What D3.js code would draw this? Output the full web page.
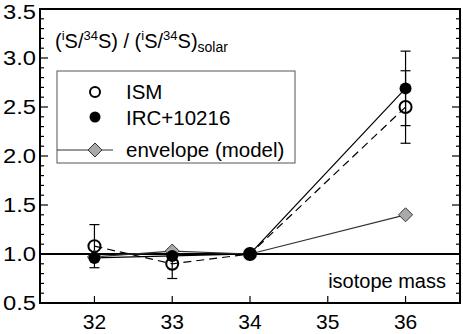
<!DOCTYPE html>
<html><head><meta charset="utf-8">
<script src="https://cdn.jsdelivr.net/npm/d3@7"></script>
<style>body{margin:0;background:#fff}svg{font-family:"Liberation Sans",Arial,sans-serif}</style>
</head><body>
<svg id="c" width="463" height="334"></svg>
<script>
const masses = [32, 33, 34, 36];
const ismValues = [1.08, 0.90, 1.00, 2.50];
const ismErrors = [0.22, 0.15, 0, 0.37];
const ircValues = [0.96, 0.98, 1.00, 2.69];
const ircErrors = [0, 0, 0, 0.38];
const envValues = [0.97, 1.03, 1.00, 1.40];
const xTicks = [32, 33, 34, 35, 36];
const yTicks = [0.5, 1.0, 1.5, 2.0, 2.5, 3.0, 3.5];

const svg = d3.select("#c");
const L = 40, R = 460, T = 9, B = 303;
const x = d3.scaleLinear().domain([31.3, 36.7]).range([L, R]);
const y = d3.scaleLinear().domain([0.5, 3.5]).range([B, T]);

const minor = d3.range(5, 36).map(d => d / 10);
const isMajor = d => Math.abs(d * 2 - Math.round(d * 2)) < 1e-6;
svg.append("g").selectAll("line").data(minor).join("line")
  .attr("x1", L).attr("x2", d => L + (isMajor(d) ? 8 : 4))
  .attr("y1", d => y(d)).attr("y2", d => y(d)).attr("stroke", "#000").attr("stroke-width", 1.2);
svg.append("g").selectAll("line").data(minor).join("line")
  .attr("x1", R).attr("x2", d => R - (isMajor(d) ? 8 : 4))
  .attr("y1", d => y(d)).attr("y2", d => y(d)).attr("stroke", "#000").attr("stroke-width", 1.2);
svg.append("g").selectAll("line").data(xTicks).join("line")
  .attr("x1", d => x(d)).attr("x2", d => x(d)).attr("y1", B).attr("y2", B - 7)
  .attr("stroke", "#000").attr("stroke-width", 1.2);

svg.append("g").selectAll("text").data(yTicks).join("text")
  .attr("x", 36).attr("y", d => Math.max(y(d) + 7, 18.5)).attr("text-anchor", "end")
  .attr("font-size", 20).attr("textLength", 33).attr("lengthAdjust", "spacingAndGlyphs")
  .text(d => d.toFixed(1));
svg.append("g").selectAll("text").data(xTicks).join("text")
  .attr("x", d => x(d)).attr("y", 329).attr("text-anchor", "middle")
  .attr("font-size", 21).text(d => d);

svg.append("line").attr("x1", L).attr("x2", R).attr("y1", y(1)).attr("y2", y(1))
  .attr("stroke", "#000").attr("stroke-width", 2);

const line = d3.line().x(d => x(d[0])).y(d => y(d[1]));
const zip = v => masses.map((m, i) => [m, v[i]]);

svg.append("path").attr("d", line(zip(envValues))).attr("fill", "none").attr("stroke", "#333").attr("stroke-width", 1.2);
svg.append("path").attr("d", line(zip(ircValues))).attr("fill", "none").attr("stroke", "#000").attr("stroke-width", 1.2);
svg.append("path").attr("d", line(zip(ismValues))).attr("fill", "none").attr("stroke", "#000").attr("stroke-width", 1.2).attr("stroke-dasharray", "8,5");

function errBars(vals, errs) {
  masses.forEach((m, i) => {
    if (!errs[i]) return;
    const g = svg.append("g").attr("stroke", "#000").attr("stroke-width", 1.2);
    g.append("line").attr("x1", x(m)).attr("x2", x(m)).attr("y1", y(vals[i] - errs[i])).attr("y2", y(vals[i] + errs[i]));
    [vals[i] - errs[i], vals[i] + errs[i]].forEach(v =>
      g.append("line").attr("x1", x(m) - 5).attr("x2", x(m) + 5).attr("y1", y(v)).attr("y2", y(v)));
  });
}
errBars(ismValues, ismErrors);
errBars(ircValues, ircErrors);

const diamond = (cx, cy) => `M${cx},${cy - 7}L${cx + 7},${cy}L${cx},${cy + 7}L${cx - 7},${cy}Z`;
svg.append("g").selectAll("path").data(zip(envValues)).join("path")
  .attr("d", d => diamond(x(d[0]), y(d[1]))).attr("fill", "#aaa").attr("stroke", "#333").attr("stroke-width", 1);
svg.append("g").selectAll("circle").data(zip(ircValues)).join("circle")
  .attr("cx", d => x(d[0])).attr("cy", d => y(d[1])).attr("r", 6).attr("fill", "#000");
svg.append("g").selectAll("circle").data(zip(ismValues)).join("circle")
  .attr("cx", d => x(d[0])).attr("cy", d => y(d[1])).attr("r", 6).attr("fill", "none").attr("stroke", "#000").attr("stroke-width", 2);

svg.append("rect").attr("x", L).attr("y", T).attr("width", R - L).attr("height", B - T)
  .attr("fill", "none").attr("stroke", "#000").attr("stroke-width", 2);

const t = svg.append("text").attr("x", 55).attr("y", 48).attr("font-size", 20);
const parts = [["(", 0, null], ["i", -8, 13], ["S/", 8, null], ["34", -8, 13], ["S) / (", 8, null],
  ["i", -8, 13], ["S/", 8, null], ["34", -8, 13], ["S)", 8, null], ["solar", 4, 14]];
parts.forEach(p => {
  const s = t.append("tspan").attr("dy", p[1]).text(p[0]);
  if (p[2]) s.attr("font-size", p[2]);
});

svg.append("rect").attr("x", 57).attr("y", 71).attr("width", 238).attr("height", 92)
  .attr("fill", "#fff").attr("stroke", "#555").attr("stroke-width", 1);
const lx = 95;
svg.append("circle").attr("cx", lx).attr("cy", 92).attr("r", 5).attr("fill", "#fff").attr("stroke", "#000").attr("stroke-width", 2);
svg.append("circle").attr("cx", lx).attr("cy", 117).attr("r", 5.5).attr("fill", "#000");
svg.append("line").attr("x1", 57).attr("x2", 113).attr("y1", 150).attr("y2", 150).attr("stroke", "#333").attr("stroke-width", 1.2);
svg.append("path").attr("d", diamond(lx, 150)).attr("fill", "#aaa").attr("stroke", "#333");
const legText = ["ISM", "IRC+10216", "envelope (model)"];
const legY = [99, 125, 157];
svg.append("g").selectAll("text").data(legText).join("text")
  .attr("x", 126).attr("y", (d, i) => legY[i]).attr("font-size", 20.5).text(d => d);

svg.append("text").attr("x", 446).attr("y", 288).attr("text-anchor", "end").attr("font-size", 20).text("isotope mass");
</script>
</body></html>
